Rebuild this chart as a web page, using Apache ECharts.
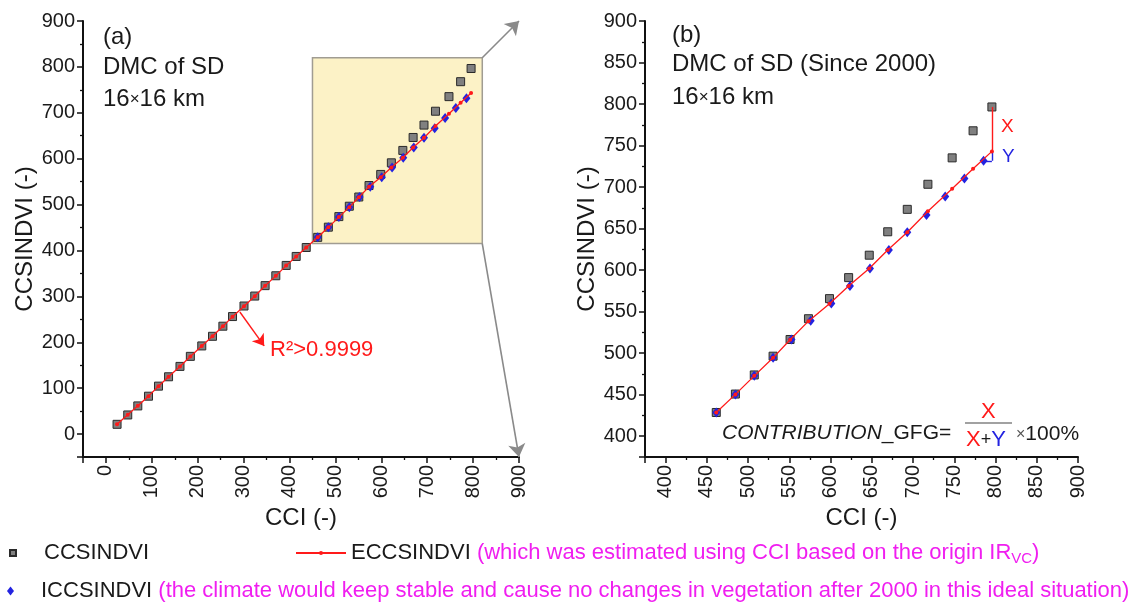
<!DOCTYPE html>
<html><head><meta charset="utf-8">
<script src="https://cdn.jsdelivr.net/npm/echarts@6/dist/echarts.min.js"></script>
<style>html,body{margin:0;padding:0;background:#fff}#c{width:1139px;height:606px}</style>
</head><body><div id="c"></div>
<script>
// ---------------- data ----------------
const cci = [24.2, 47.5, 69.4, 92.7, 114.5, 136.4, 161.3, 183.9, 208.8, 232.2, 254.8, 275.8, 300.8, 324.2, 346.8, 370.1, 392.7, 414.5, 436.4,
  461.4, 484.6, 507.5, 530.3, 550.9, 573.2, 598.7, 621.9, 646.9, 669.3, 693.0, 718.0, 747.4, 772.8, 795.6];
const ccsindvi = [21.2, 41.6, 61.3, 82.5, 104.4, 124.8, 147.4, 169.3, 192.0, 213.0, 235.0, 256.0, 279.0, 300.7, 323.4, 344.9, 367.4, 387.0, 406.5,
  428.6, 450.8, 473.8, 496.4, 516.5, 541.5, 565.7, 591.0, 618.0, 646.2, 673.2, 703.4, 735.2, 767.8, 796.5];
const eccsindvi = [21.5, 41.9, 61.6, 82.6, 104.2, 124.9, 147.2, 169.1, 191.8, 212.9, 234.7, 255.8, 278.6, 300.4, 323.1, 344.7, 367.0, 386.9, 406.6,
  428.6, 450.4, 472.7, 494.4, 516.1, 538.6, 559.5, 580.8, 602.0, 624.3, 645.6, 671.0, 698.0, 722.0, 743.0];
const iccCci = [461.4, 484.6, 507.5, 530.3, 552.6, 575.9, 600.9, 623.5, 647.8, 670.7, 693.0, 716.3, 739.0, 762.3, 785.5];
const iccsindvi = [428.6, 450.4, 472.7, 494.4, 516.5, 539.0, 559.8, 581.0, 602.0, 624.3, 645.6, 666.5, 688.6, 710.4, 731.7];
const since2000Index = 19;
const rangeA = [-50, 900];
const rangeB = [375, 900];
const zoomBox = [[450, 415], [820, 820]];
const legendNames = ['CCSINDVI', 'ECCSINDVI', 'ICCSINDVI'];
const legendNoteE = ' (which was estimated using CCI based on the origin IR';
const legendNoteI = ' (the climate would keep stable and cause no changes in vegetation after 2000 in this ideal situation)';

// ---------------- chart ----------------
const FONT = '"Liberation Sans", Arial, sans-serif';
const INK = '#1a1a1a', RED = '#ff1a1a', BLUE = '#2323e0', MAG = '#f01ef0';
const pts = (xs, ys) => xs.map((x, i) => [x, ys[i]]);
const allC = pts(cci, ccsindvi), allE = pts(cci, eccsindvi), allI = pts(iccCci, iccsindvi);
const postC = allC.slice(since2000Index), postE = allE.slice(since2000Index);
const nLast = cci.length - 1, iLast = iccCci.length - 1;

function mkAxis(gridIndex, range, name, nameGap, isX) {
  return {
    type: 'value', gridIndex, min: range[0], max: range[1], splitNumber: 10,
    name, nameLocation: 'middle', nameGap,
    nameTextStyle: { fontSize: 24, color: INK, fontFamily: FONT },
    axisLine: { show: true, onZero: false, lineStyle: { color: '#111', width: 2 } },
    axisTick: { show: true, inside: false, length: 6, lineStyle: { color: '#111', width: 1.5 } },
    minorTick: { show: true, splitNumber: 2, length: 3, lineStyle: { color: '#111', width: 1.3 } },
    axisLabel: { rotate: isX ? 90 : 0, margin: 8, fontSize: 20, color: INK, fontFamily: FONT, showMinLabel: false },
    splitLine: { show: false }, minorSplitLine: { show: false }
  };
}

function seriesSet(g, cData, eData, iData) {
  return [
    { name: 'CCSINDVI', type: 'scatter', xAxisIndex: g, yAxisIndex: g, data: cData, symbol: 'rect', symbolSize: 8, z: 3,
      itemStyle: { color: '#808080', borderColor: '#2a2a2a', borderWidth: 1, opacity: 1 } },
    { name: 'ICCSINDVI', type: 'scatter', xAxisIndex: g, yAxisIndex: g, data: iData, symbol: 'diamond', symbolSize: [8, 10], z: 4,
      itemStyle: { color: BLUE, opacity: 1 } },
    { name: 'ECCSINDVI', type: 'line', xAxisIndex: g, yAxisIndex: g, data: eData, symbol: 'circle', symbolSize: 4, showSymbol: true, z: 5,
      lineStyle: { color: RED, width: 1.3 }, itemStyle: { color: RED, borderWidth: 0 } }
  ];
}

const arrowStyle = { color: '#8a8a8a', width: 1.6, type: 'solid' };
const option = {
  animation: false,
  backgroundColor: '#fff',
  textStyle: { fontFamily: FONT },
  grid: [
    { left: 83, top: 21, width: 436, height: 436, outerBoundsMode: 'none', containLabel: false },
    { left: 645, top: 21, width: 433, height: 436, outerBoundsMode: 'none', containLabel: false }
  ],
  xAxis: [mkAxis(0, rangeA, 'CCI (-)', 48, true), mkAxis(1, rangeB, 'CCI (-)', 48, true)],
  yAxis: [mkAxis(0, rangeA, 'CCSINDVI (-)', 46, false), mkAxis(1, rangeB, 'CCSINDVI (-)', 46, false)],
  legend: [
    { data: [legendNames[0]], left: 9, top: 542, padding: 0, selectedMode: false, itemWidth: 6, itemHeight: 6,
      formatter: n => `{n|${n}}`,
      textStyle: { rich: { n: { fontSize: 22, color: INK, fontFamily: FONT, padding: [0, 0, 0, 23] } } } },
    { data: [legendNames[1]], left: 295, top: 542, padding: 0, selectedMode: false, itemWidth: 50, itemHeight: 5,
      formatter: n => `{n|${n}}{m|${legendNoteE}}{s|VC}{m|)}`,
      textStyle: { rich: {
        n: { fontSize: 22, color: INK, fontFamily: FONT },
        m: { fontSize: 22, color: MAG, fontFamily: FONT },
        s: { fontSize: 15, color: MAG, fontFamily: FONT, verticalAlign: 'bottom', padding: [12, 0, 0, 0] } } } },
    { data: [legendNames[2]], left: 7, top: 580, padding: 0, selectedMode: false, itemWidth: 7, itemHeight: 9,
      formatter: n => `{n|${n}}{m|${legendNoteI}}`,
      textStyle: { rich: {
        n: { fontSize: 22, color: INK, fontFamily: FONT, padding: [0, 0, 0, 22] },
        m: { fontSize: 22, color: MAG, fontFamily: FONT } } } }
  ],
  series: [
    // zoom box and arrows (panel a)
    { type: 'scatter', xAxisIndex: 0, yAxisIndex: 0, data: [], z: 1, silent: true, clip: false,
      markArea: { silent: true, itemStyle: { color: '#fcf2c6', borderColor: '#a09c92', borderWidth: 1.5 },
        data: [[{ coord: zoomBox[0] }, { coord: zoomBox[1] }]] },
      markLine: { silent: true, symbol: ['none', 'arrow'], symbolSize: 13, label: { show: false }, lineStyle: arrowStyle,
        data: [
          [{ coord: [zoomBox[1][0], zoomBox[1][1]] }, { coord: [rangeA[1], rangeA[1]] }],
          [{ coord: [zoomBox[1][0], zoomBox[0][1]] }, { coord: [rangeA[1], rangeA[0]] }]
        ] } },
    // R2 arrow (panel a)
    { type: 'scatter', xAxisIndex: 0, yAxisIndex: 0, data: [], z: 6, silent: true, clip: false,
      markLine: { silent: true, symbol: ['none', 'arrow'], symbolSize: 11, label: { show: false },
        lineStyle: { color: RED, width: 1.4, type: 'solid' },
        data: [[{ coord: [cci[12] - 9, ccsindvi[12] - 13] }, { coord: [cci[14] - 2, ccsindvi[9] - 21] }]] } },
    ...seriesSet(0, allC, allE, allI),
    // X / Y brackets (panel b)
    { type: 'scatter', xAxisIndex: 1, yAxisIndex: 1, data: [], z: 2, silent: true,
      markLine: { silent: true, symbol: ['none', 'none'], label: { show: false },
        data: [
          [{ coord: [cci[nLast], ccsindvi[nLast]], lineStyle: { color: RED, width: 1.4, type: 'solid' } },
           { coord: [cci[nLast], eccsindvi[nLast]] }],
          [{ coord: [cci[nLast], eccsindvi[nLast]], lineStyle: { color: BLUE, width: 1.4, type: 'solid' } },
           { coord: [cci[nLast], iccsindvi[iLast]] }],
          [{ coord: [cci[nLast], iccsindvi[iLast]], lineStyle: { color: BLUE, width: 1.4, type: 'solid' } },
           { coord: [iccCci[iLast], iccsindvi[iLast]] }]
        ] } },
    ...seriesSet(1, postC, postE, allI)
  ],
  graphic: [
    { type: 'text', left: 103, top: 25, style: { text: '(a)', font: `24px ${FONT}`, fill: INK } },
    { type: 'text', left: 103, top: 55, style: { text: 'DMC of SD', font: `24px ${FONT}`, fill: INK } },
    { type: 'text', left: 103, top: 87, style: { text: '{a|16}{x|×}{a|16 km}', rich: { a: { fontSize: 24, fontFamily: FONT, fill: INK }, x: { fontSize: 17, fontFamily: FONT, fill: INK } } } },
    { type: 'text', left: 672, top: 23, style: { text: '(b)', font: `24px ${FONT}`, fill: INK } },
    { type: 'text', left: 672, top: 52, style: { text: 'DMC of SD (Since 2000)', font: `24px ${FONT}`, fill: INK } },
    { type: 'text', left: 672, top: 85, style: { text: '{a|16}{x|×}{a|16 km}', rich: { a: { fontSize: 24, fontFamily: FONT, fill: INK }, x: { fontSize: 17, fontFamily: FONT, fill: INK } } } },
    { type: 'text', left: 270, top: 339, style: { text: 'R²>0.9999', font: `22px ${FONT}`, fill: RED } },
    { type: 'text', left: 1001, top: 117, style: { text: 'X', font: `19px ${FONT}`, fill: RED } },
    { type: 'text', left: 1002, top: 147, style: { text: 'Y', font: `19px ${FONT}`, fill: BLUE } },
    { type: 'text', left: 722, top: 423, style: { text: '{i|CONTRIBUTION}{t|_GFG=}', rich: {
        i: { fontSize: 21, fontStyle: 'italic', fontFamily: FONT, fill: INK }, t: { fontSize: 21, fontFamily: FONT, fill: INK } } } },
    { type: 'text', left: 981, top: 401, style: { text: 'X', font: `22px ${FONT}`, fill: RED } },
    { type: 'line', shape: { x1: 965, y1: 423, x2: 1012, y2: 423 }, style: { stroke: '#444', lineWidth: 1.2 } },
    { type: 'text', left: 966, top: 429, style: { text: '{r|X}{k|+}{b|Y}', rich: {
        r: { fontSize: 22, fontFamily: FONT, fill: RED }, k: { fontSize: 18, fontFamily: FONT, fill: INK }, b: { fontSize: 22, fontFamily: FONT, fill: BLUE } } } },
    { type: 'text', left: 1016, top: 424, style: { text: '{x|×}{a|100%}', rich: {
        x: { fontSize: 16, fontFamily: FONT, fill: '#555' }, a: { fontSize: 21, fontFamily: FONT, fill: INK } } } }
  ]
};
const chart = echarts.init(document.getElementById('c'));
chart.setOption(option);
</script>
</body></html>
